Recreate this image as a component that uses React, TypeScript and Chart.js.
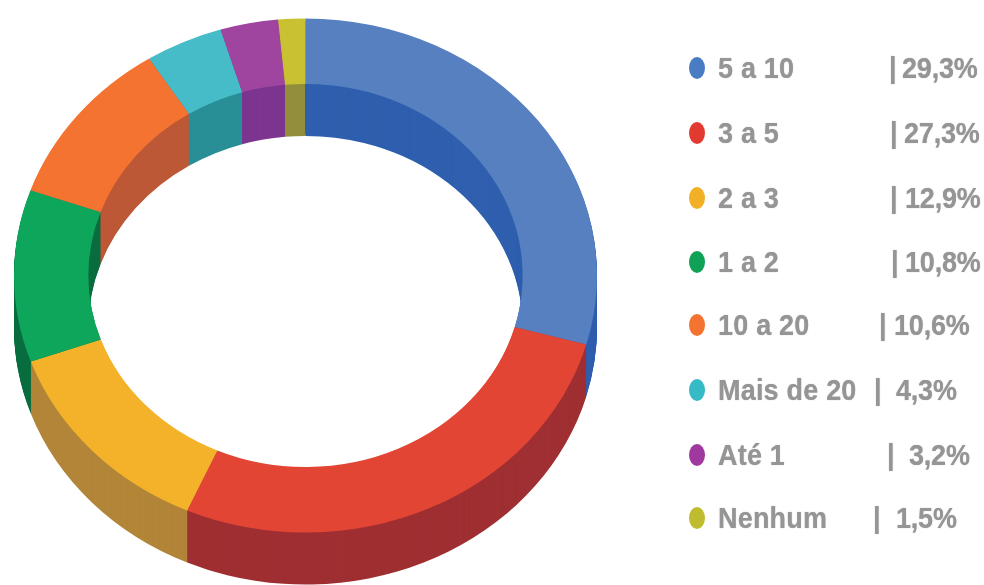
import React, { useEffect, useRef } from "react";
import { Chart, registerables } from "chart.js";

Chart.register(...registerables);

const categories = ["5 a 10", "3 a 5", "2 a 3", "1 a 2", "10 a 20", "Mais de 20", "Até 1", "Nenhum"];
const shares = [29.3, 27.3, 12.9, 10.8, 10.6, 4.3, 3.2, 1.5];
const shareLabels = ["29,3%", "27,3%", "12,9%", "10,8%", "10,6%", "4,3%", "3,2%", "1,5%"];
const faceColors = ["#5680bf", "#e24534", "#f4b22a", "#0ea65a", "#f47331", "#45bcc8", "#a0459f", "#c9c032"];
const wallColors = ["#2f5fae", "#9f2f32", "#b28538", "#0b6e40", "#bd5836", "#2a8f97", "#7d3590", "#928e3c"];
const dotColors = ["#4a7cc4", "#e23a30", "#f2b027", "#0fa257", "#f47331", "#35bac6", "#a0399f", "#bfbd2f"];

// Legend layout, separate from the data
const rowCentres = [68, 133, 198, 262, 325, 390, 455, 518];
const pipeLefts = [889, 890, 890, 891, 879, 874, 887, 873];
const shareLefts = [903, 905, 906, 906, 895, 897, 910, 897];

const FACE_CENTRE_Y = 275.5;
const SQUASH = 0.882;
const DEPTH = 52;

const tilt = {
  id: "tilt",
  beforeDatasetsDraw(chart: any) {
    const { ctx } = chart;
    const arcs = chart.getDatasetMeta(0).data as any[];
    const midY = arcs[0].y;
    const farness = (a: any) => -Math.sin((a.startAngle + a.endAngle) / 2);
    const order = arcs.map((_, i) => i).sort((p, q) => farness(arcs[q]) - farness(arcs[p]));
    for (const i of order) {
      const a = arcs[i];
      ctx.fillStyle = wallColors[i];
      for (let dy = DEPTH; dy >= 1; dy--) {
        ctx.save();
        ctx.translate(0, FACE_CENTRE_Y + dy);
        ctx.scale(1, SQUASH);
        ctx.translate(0, -midY);
        ctx.beginPath();
        ctx.arc(a.x, a.y, a.outerRadius, a.startAngle, a.endAngle);
        ctx.arc(a.x, a.y, a.innerRadius, a.endAngle, a.startAngle, true);
        ctx.closePath();
        ctx.fill();
        ctx.restore();
      }
    }
    ctx.save();
    ctx.translate(0, FACE_CENTRE_Y);
    ctx.scale(1, SQUASH);
    ctx.translate(0, -midY);
  },
  afterDatasetsDraw(chart: any) {
    chart.ctx.restore();
  },
};

export default function App() {
  const ref = useRef<HTMLCanvasElement>(null);
  useEffect(() => {
    const chart = new Chart(ref.current as HTMLCanvasElement, {
      type: "doughnut",
      data: {
        labels: categories,
        datasets: [
          {
            data: shares,
            backgroundColor: faceColors,
            borderWidth: 0,
            clip: false,
          } as any,
        ],
      },
      options: {
        responsive: false,
        animation: false,
        cutout: "74.5%",
        layout: { padding: { left: 14, right: 387, top: 1, bottom: 1 } },
        plugins: { legend: { display: false }, tooltip: { enabled: false } },
      },
      plugins: [tilt],
    });
    return () => chart.destroy();
  }, []);

  const text: React.CSSProperties = {
    position: "absolute",
    transform: "translateY(-50%) scaleY(1.08)",
    fontFamily: "'Liberation Sans', Arial, sans-serif",
    fontWeight: 700,
    fontSize: 27,
    lineHeight: "30px",
    color: "#959595",
    textShadow: "0 0 1px #a5a5a5",
    whiteSpace: "pre",
  };

  return (
    <div style={{ position: "absolute", left: 0, top: 0, width: 984, height: 585, background: "#fff", overflow: "hidden" }}>
      <canvas ref={ref} width={984} height={585} style={{ display: "block", filter: "blur(0.5px)" }} />
      <div style={{ position: "absolute", inset: 0, filter: "blur(0.7px)" }}>
        {categories.map((c, i) => (
          <React.Fragment key={c}>
            <span
              style={{
                position: "absolute",
                left: 689,
                top: rowCentres[i] - 11,
                width: 16,
                height: 22,
                borderRadius: "50%",
                background: dotColors[i],
              }}
            />
            <span style={{ ...text, left: 718, top: rowCentres[i], letterSpacing: 0.2 }}>{c}</span>
            <span style={{ ...text, left: pipeLefts[i], top: rowCentres[i] }}>|</span>
            <span style={{ ...text, left: shareLefts[i] - 1, top: rowCentres[i], letterSpacing: -0.2 }}>{shareLabels[i]}</span>
          </React.Fragment>
        ))}
      </div>
    </div>
  );
}
